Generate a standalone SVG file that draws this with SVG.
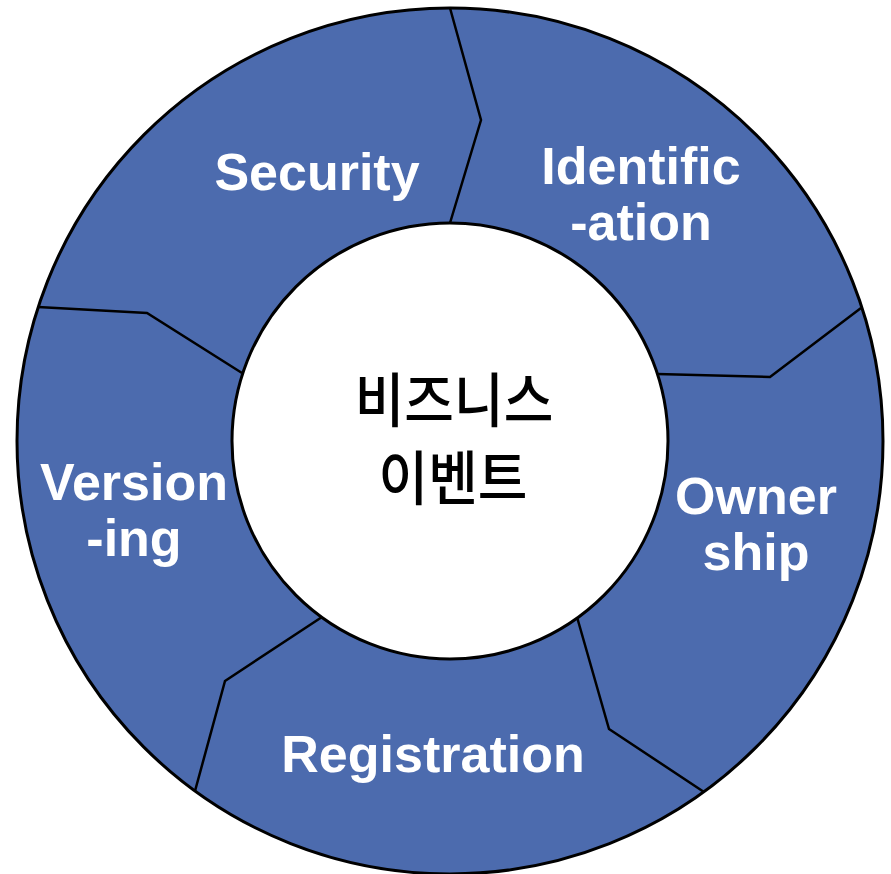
<svg xmlns="http://www.w3.org/2000/svg" width="891" height="874" viewBox="0 0 891 874">
<style>
.lbl{font-family:"Liberation Sans",Arial,sans-serif;font-weight:bold;font-size:52px;fill:#fff;text-anchor:middle}
.ko{font-family:"Noto Sans CJK KR","Noto Sans",sans-serif;font-size:54px;font-weight:500;fill:#000;text-anchor:middle}
.div{fill:none;stroke:#000;stroke-width:2.5;stroke-linejoin:miter}
</style>
<rect width="891" height="874" fill="#fff"/>
<g id="ring">
<circle cx="450" cy="441" r="433" fill="#4C6BAE" stroke="#000" stroke-width="3"/>
</g>
<g id="connectors">
<polyline class="div" points="450,8 481,120 450,223"/>
<polyline class="div" points="861,308 770,377 657,374"/>
<polyline class="div" points="577,617 609,729 704,792"/>
<polyline class="div" points="322,617 225,681 195,791"/>
<polyline class="div" points="38,307 147,313 242,373"/>
</g>
<g id="center">
<circle cx="450" cy="441" r="218" fill="#fff" stroke="#000" stroke-width="3"/>
<text class="ko" transform="translate(454,422) scale(1,1.1)">비즈니스</text>
<text class="ko" transform="translate(453,500) scale(1,1.1)">이벤트</text>
</g>
<g id="security"><text class="lbl" x="317" y="190">Security</text></g>
<g id="identification"><text class="lbl" x="641" y="184">Identific</text><text class="lbl" x="641" y="240">-ation</text></g>
<g id="ownership"><text class="lbl" x="756" y="514">Owner</text><text class="lbl" x="756" y="570">ship</text></g>
<g id="registration"><text class="lbl" x="433" y="772">Registration</text></g>
<g id="versioning"><text class="lbl" x="134" y="500">Version</text><text class="lbl" x="134" y="556">-ing</text></g>
</svg>
